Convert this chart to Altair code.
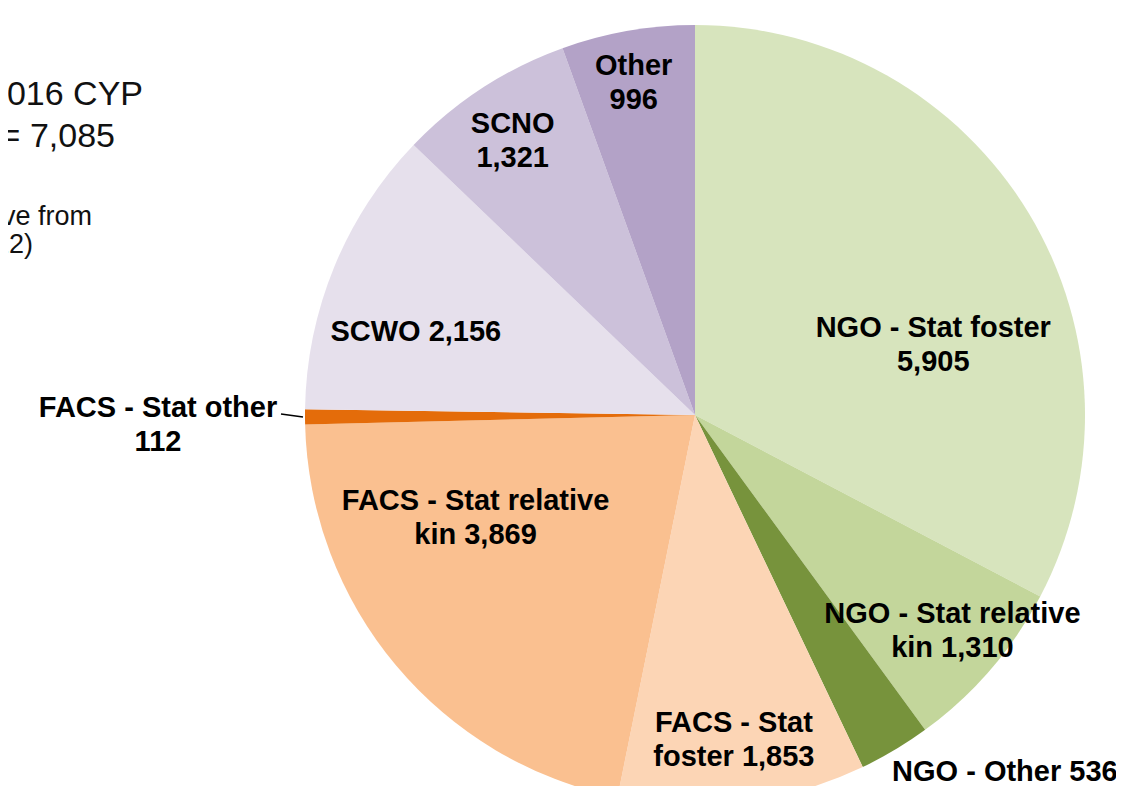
import math
import altair as alt
import pandas as pd

categories = [
    "NGO - Stat foster", "NGO - Stat relative kin", "NGO - Other",
    "FACS - Stat foster", "FACS - Stat relative kin", "FACS - Stat other",
    "SCWO", "SCNO", "Other",
]
values = [5905, 1310, 536, 1853, 3869, 112, 2156, 1321, 996]
labels = [
    "NGO - Stat foster\n5,905", "NGO - Stat relative\nkin 1,310", "NGO - Other 536",
    "FACS - Stat\nfoster 1,853", "FACS - Stat relative\nkin 3,869", "FACS - Stat other\n112",
    "SCWO 2,156", "SCNO\n1,321", "Other\n996",
]
colors = ["#D7E4BD", "#C3D69B", "#77933C", "#FCD5B5", "#FAC090", "#E46C0A",
          "#E6E0EC", "#CCC1DA", "#B3A2C7"]
side_lines = ["016 CYP", "= 7,085", "ve from", "12)"]

df = pd.DataFrame({"cat": categories, "value": values, "label": labels,
                   "idx": list(range(len(categories)))})
total = sum(values)

W, H = 1108, 778
CX, CY, R = 687, 407, 390
FONT = "Liberation Sans"
LH = 34

theta_scale = alt.Scale(domain=[0, total], range=[0, 2 * math.pi])

base = alt.Chart(df).transform_window(
    cum="sum(value)", sort=[alt.SortField("idx")], frame=[None, 0]
).transform_calculate(mid="datum.cum - datum.value / 2")

pie = alt.Chart(df).mark_arc(clip=True, outerRadius=R).encode(
    theta=alt.Theta("value:Q", stack=True, scale=theta_scale),
    order=alt.Order("idx:Q"),
    color=alt.Color("cat:N", scale=alt.Scale(domain=categories, range=colors), legend=None),
    x=alt.value(CX), y=alt.value(CY),
)

# per-label placement (radius, dx, dy)
place = {
    "NGO - Stat foster": (248, 26, 58),
    "NGO - Stat relative kin": (336, 3, -3),
    "NGO - Other": (476, 66, -52),
    "FACS - Stat foster": (327, -1, 0),
    "FACS - Stat relative kin": (242, -34, -52),
    "FACS - Stat other": (537, 0, 7),
    "SCWO": (291, -10, 28),
    "SCNO": (329, -3, 2),
    "Other": (338, -3, 1),
}

layers = [pie]
for c, lab in zip(categories, labels):
    r, dx, dy = place[c]
    nlines = lab.count("\n") + 1
    dy = dy - (nlines - 1) * LH / 2
    layers.append(
        base.transform_filter(alt.datum.cat == c).mark_text(
            font=FONT, fontSize=29, fontWeight="bold", color="black",
            align="center", baseline="middle", lineBreak="\n", lineHeight=LH,
            dx=dx, dy=dy, radius=r,
        ).encode(
            theta=alt.Theta("mid:Q", scale=theta_scale),
            text="label:N",
            x=alt.value(CX), y=alt.value(CY),
        )
    )

# leader line for the small slice
leader = base.transform_filter(alt.datum.cat == "FACS - Stat other").transform_calculate(
    lx=f"{CX} + {R + 2} * sin(2 * PI * datum.mid / {total})",
    ly=f"{CY} - {R + 2} * cos(2 * PI * datum.mid / {total})",
).transform_calculate(
    lx2="datum.lx - 22", ly2="datum.ly - 3"
).mark_rule(color="black", strokeWidth=1.5).encode(
    x=alt.X("lx:Q", scale=None), y=alt.Y("ly:Q", scale=None),
    x2="lx2:Q", y2="ly2:Q",
)
layers.append(leader)

# side annotation (cut off at the left edge in the reference)
side_pos = [(135, 97, 34), (107, 139, 34), (84, 217, 27), (25, 245, 27)]
for t, (sx, sy, fs) in zip(side_lines, side_pos):
    layers.append(
        alt.Chart(pd.DataFrame({"t": [t]})).mark_text(
            font=FONT, fontSize=fs, align="right", baseline="alphabetic", color="#111111"
        ).encode(text="t:N", x=alt.value(sx), y=alt.value(sy))
    )

chart = alt.layer(*layers).properties(
    width=W, height=H, padding=0, autosize=alt.AutoSizeParams(type="none")
).configure_view(stroke=None)

chart.save("out.html", embed_options={"renderer": "svg", "actions": False})
